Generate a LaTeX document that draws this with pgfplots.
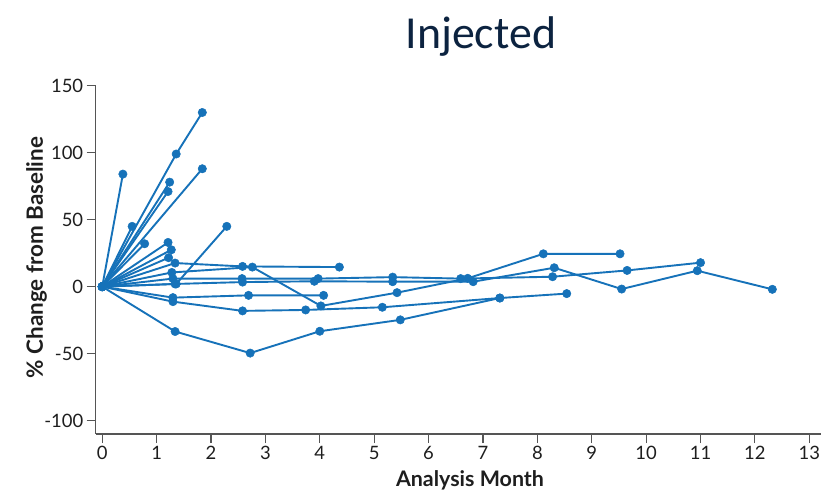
\documentclass[border=0pt]{standalone}
\usepackage{fontspec}
\setmainfont{Lato}
\newfontfamily\titlefont{Carlito}
\usepackage{pgfplots}
\pgfplotsset{compat=1.18}
\definecolor{ser}{RGB}{22,114,185}
\definecolor{navy}{RGB}{12,35,64}
\definecolor{axgray}{RGB}{85,85,85}
\definecolor{txt}{RGB}{30,30,30}
\tikzset{pat/.style={draw=ser, solid, line width=1.9bp, mark=*, mark size=4.2bp, mark options={solid, draw=ser, fill=ser, line width=0.5bp}}}
\begin{document}
\begin{tikzpicture}
\useasboundingbox (0,0) rectangle (821bp,492bp);
\begin{axis}[
  at={(95.7bp,58bp)}, anchor=south west,
  scale only axis, width=725.3bp, height=348.3bp,
  xmin=-0.12, xmax=13.215, ymin=-110, ymax=150,
  axis x line*=bottom, axis y line*=left,
  axis line style={axgray, line width=1.2bp},
  every tick/.style={axgray, line width=1.1bp},
  tick align=outside, major tick length=9bp,
  xtick={0,...,13}, xticklabels={0,1,2,3,4,5,6,7,8,9,10,11,12,13},
  ytick={-100,-50,0,50,100,150}, yticklabels={-100,-50,0,50,100,150},
  tick label style={font=\fontsize{18.5}{20}\selectfont, text=txt},
  clip=false,
]
\addplot[pat] coordinates {(0,0)(1.36,99)(1.84,130)};
\addplot[pat] coordinates {(0,0)(0.38,84)};
\addplot[pat] coordinates {(0,0)(1.24,78)};
\addplot[pat] coordinates {(0,0)(1.21,71)};
\addplot[pat] coordinates {(0,0)(1.84,88)};
\addplot[pat] coordinates {(0,0)(0.55,45)};
\addplot[pat] coordinates {(0,0)(1.36,2)(2.29,45)};
\addplot[pat] coordinates {(0,0)(0.78,32)};
\addplot[pat] coordinates {(0,0)(1.21,33)};
\addplot[pat] coordinates {(0,0)(1.27,27.5)};
\addplot[pat] coordinates {(0,0)(1.22,21.6)};
\addplot[pat] coordinates {(0,0)(1.34,17.6)(2.58,15.1)(4.36,14.6)};
\addplot[pat] coordinates {(0,0)(1.28,10.6)(2.76,14.6)(4.02,-14.4)(5.42,-4.5)(6.72,6.2)(8.11,24.5)(9.52,24.5)};
\addplot[pat] coordinates {(0,0)(1.3,6)(2.57,6)(3.97,6)(5.34,7.1)(6.59,6)(8.28,7.4)(9.65,12.1)(11.0,17.9)};
\addplot[pat] coordinates {(0,0)(1.34,2)(2.58,3.4)(3.90,4)(5.34,3.7)(6.82,3.7)(8.31,14.1)(9.55,-1.8)(10.94,11.9)(12.32,-2)};
\addplot[pat] coordinates {(0,0)(1.3,-8.2)(2.69,-6.5)(4.07,-6.5)};
\addplot[pat] coordinates {(0,0)(1.3,-11.2)(2.58,-18.1)(3.74,-17.4)(5.15,-15.4)(7.31,-8.5)};
\addplot[pat] coordinates {(0,0)(1.34,-33.5)(2.72,-49.6)(4.0,-33.3)(5.48,-24.8)(7.31,-8.5)(8.54,-5.2)};
\node[anchor=base, font=\titlefont\fontsize{46}{50}\selectfont, text=navy, inner sep=0pt] at (rel axis cs:0.531,1.108) {Injected};
\node[anchor=base, font=\bfseries\fontsize{21.5}{24}\selectfont, text=txt, inner sep=0pt] at (rel axis cs:0.516,-0.152) {Analysis Month};
\node[anchor=base, rotate=90, font=\bfseries\fontsize{22.5}{25}\selectfont, text=txt, inner sep=0pt] at (rel axis cs:-0.0727,0.507) {\% Change from Baseline};
\end{axis}
\end{tikzpicture}
\end{document}
